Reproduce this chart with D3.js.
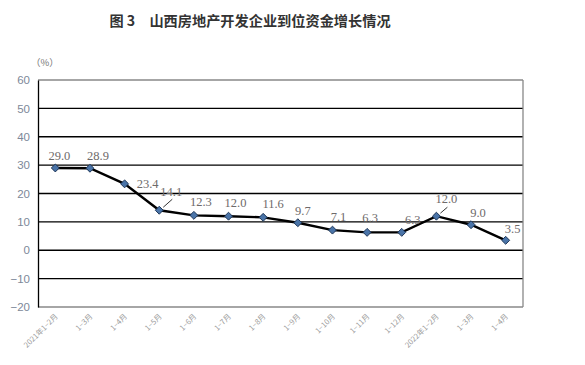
<!DOCTYPE html>
<html><head><meta charset="utf-8">
<script src="https://cdn.jsdelivr.net/npm/d3@7"></script>
<style>body{margin:0;background:#fff}svg{display:block}</style>
</head><body>
<script>
const categories = ["2021年1−2月","1−3月","1−4月","1−5月","1−6月","1−7月","1−8月","1−9月","1−10月","1−11月","1−12月","2022年1−2月","1−3月","1−4月"];
const values = [29.0,28.9,23.4,14.1,12.3,12.0,11.6,9.7,7.1,6.3,6.3,12.0,9.0,3.5];
const yTicks = [-20,-10,0,10,20,30,40,50,60];
const title = "图 3　山西房地产开发企业到位资金增长情况";
const unit = "（%）";

const W = 585, H = 365;
const m = {left:38, right:62, top:80, bottom:58};
const svg = d3.select("body").append("svg").attr("width",W).attr("height",H);

svg.append("text").attr("x",250).attr("y",26).attr("text-anchor","middle")
  .attr("font-family","'Noto Sans CJK SC'").attr("font-weight","bold").attr("font-size",14.2)
  .attr("fill","#333").text(title);

const idx = d3.range(categories.length);
const x = d3.scalePoint().domain(idx).range([m.left, W-m.right]).padding(0.5);
const y = d3.scaleLinear().domain([-20,60]).range([H-m.bottom, m.top]);

// grid
svg.append("g").selectAll("line").data(yTicks.filter(t=>t>-20 && t<60)).join("line")
  .attr("x1",m.left).attr("x2",W-m.right).attr("y1",d=>y(d)).attr("y2",d=>y(d))
  .attr("stroke","#000").attr("stroke-width",1.3);
// frame
svg.append("line").attr("x1",m.left).attr("x2",W-m.right).attr("y1",y(60)).attr("y2",y(60)).attr("stroke","#888").attr("stroke-width",1.3);
svg.append("line").attr("x1",m.left).attr("x2",W-m.right).attr("y1",y(-20)).attr("y2",y(-20)).attr("stroke","#888").attr("stroke-width",1.3);
svg.append("line").attr("x1",W-m.right).attr("x2",W-m.right).attr("y1",y(60)).attr("y2",y(-20)).attr("stroke","#888").attr("stroke-width",1.3);

const yAxis = d3.axisLeft(y).tickValues(yTicks).tickSize(0).tickPadding(8)
  .tickFormat(d=> d<0 ? "−"+Math.abs(d) : d);
const ga = svg.append("g").attr("transform",`translate(${m.left},0)`).call(yAxis);
ga.select(".domain").attr("stroke","#000").attr("stroke-width",1.3);
ga.selectAll("text").attr("font-family","'Liberation Sans'").attr("font-size",11.5).attr("fill","#7d8899");

svg.append("text").attr("x",31).attr("y",66).attr("font-family","'Noto Sans CJK SC'").attr("font-size",9.5).attr("fill","#777").text(unit);

// x labels
svg.append("g").selectAll("text").data(idx).join("text")
  .attr("transform",i=>`translate(${x(i)+3},${y(-20)+10}) rotate(-45)`)
  .attr("text-anchor","end").attr("font-family","'Noto Sans CJK SC'").attr("font-size",7.5)
  .attr("fill","#999").text(i=>categories[i]);

// line
const line = d3.line().x((d,i)=>x(i)).y(d=>y(d));
svg.append("path").datum(values).attr("d",line).attr("fill","none").attr("stroke","#000").attr("stroke-width",2.4);

// markers
svg.append("g").selectAll("path").data(values).join("path")
  .attr("d",d3.symbol().type(d3.symbolDiamond2).size(40))
  .attr("transform",(d,i)=>`translate(${x(i)},${y(d)})`)
  .attr("fill","#4a74a8").attr("stroke","#1d3557").attr("stroke-width",1);

// label offsets (dx, dy from point to label center)
const labelOff = [[4,-12],[8,-12],[23,0],[12,-18],[7,-13],[7,-13],[10,-13],[5,-12],[6,-13],[3,-14],[11,-12],[10,-17],[7,-12],[7,-11]];
const leaders = {3:[[4,-3],[13,-11]], 11:[[4,-3],[11,-9]]};
Object.entries(leaders).forEach(([i,pts])=>{
  const px=x(+i), py=y(values[i]);
  svg.append("line").attr("x1",px+pts[0][0]).attr("y1",py+pts[0][1]).attr("x2",px+pts[1][0]).attr("y2",py+pts[1][1]).attr("stroke","#000").attr("stroke-width",0.8);
});
svg.append("g").selectAll("text").data(values).join("text")
  .attr("x",(d,i)=>x(i)+labelOff[i][0])
  .attr("y",(d,i)=>y(d)+labelOff[i][1]+4)
  .attr("text-anchor","middle").attr("font-family","'Liberation Serif'").attr("font-size",12.5)
  .attr("fill","#6e6a6a").text(d=>d.toFixed(1));
</script>
</body></html>
